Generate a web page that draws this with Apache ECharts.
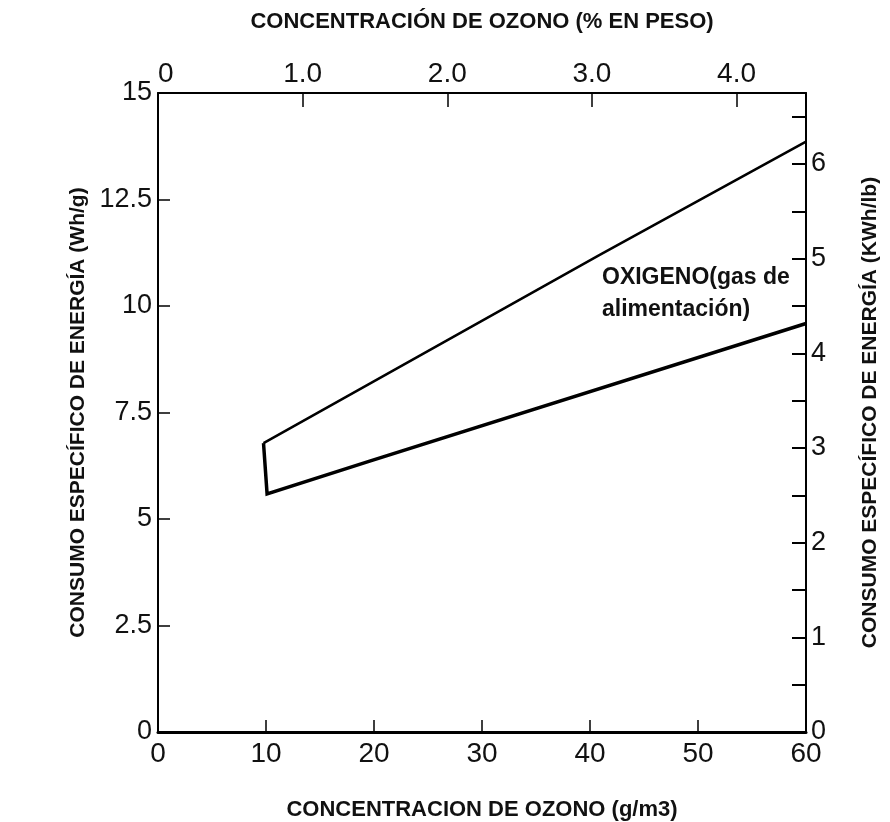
<!DOCTYPE html>
<html>
<head>
<meta charset="utf-8">
<script src="https://cdn.jsdelivr.net/npm/echarts@6/dist/echarts.min.js"></script>
<style>
html,body{margin:0;padding:0;background:#fff;}
#chart{width:890px;height:822px;}
</style>
</head>
<body>
<div id="chart"></div>
<script>
// ---- data ----
// x: ozone concentration (g/m3), y: specific energy consumption (Wh/g)
var upperX = [9.77, 40.9, 60];
var upperY = [6.78, 11.2, 13.86];
var lowerX = [9.77, 10.1, 19.6, 60];
var lowerY = [6.78, 5.59, 6.36, 9.59];

var bottomTickLabels = ['0', '10', '20', '30', '40', '50', '60'];
var topTickLabels = ['0', '1.0', '2.0', '3.0', '4.0'];
var leftTickLabels = ['0', '2.5', '5', '7.5', '10', '12.5', '15'];
var rightTickLabels = ['0', '1', '2', '3', '4', '5', '6'];

var annotationText = 'OXIGENO(gas de\nalimentación)';

function pairs(xs, ys) {
  var out = [];
  for (var i = 0; i < xs.length; i++) out.push([xs[i], ys[i]]);
  return out;
}

var FONT = '"Liberation Sans", Arial, sans-serif';
var INK = '#111';

var chart = echarts.init(document.getElementById('chart'), null, {renderer: 'canvas'});

var option = {
  backgroundColor: '#fff',
  animation: false,
  grid: {left: 158, top: 93, right: 84, bottom: 90, containLabel: false, outerBoundsMode: 'none'},
  xAxis: [
    {
      type: 'value', position: 'bottom', min: 0, max: 60, interval: 10,
      name: 'CONCENTRACION DE OZONO (g/m3)', nameLocation: 'middle', nameGap: 67,
      nameTextStyle: {fontFamily: FONT, fontSize: 22, fontWeight: 'bold', color: INK},
      axisLine: {show: true, onZero: false, lineStyle: {color: '#000', width: 3}},
      axisTick: {show: true, inside: true, length: 12, lineStyle: {color: '#000', width: 1.5}},
      axisLabel: {
        fontFamily: FONT, fontSize: 28, color: INK, margin: 8,
        formatter: function (v, i) { return bottomTickLabels[i] !== undefined ? bottomTickLabels[i] : ''; }
      },
      splitLine: {show: false}
    },
    {
      type: 'value', position: 'top', min: 0, max: 4.48, interval: 1,
      name: 'CONCENTRACIÓN DE OZONO (% EN PESO)', nameLocation: 'middle', nameGap: 60,
      nameTextStyle: {fontFamily: FONT, fontSize: 22, fontWeight: 'bold', color: INK},
      axisLine: {show: true, onZero: false, lineStyle: {color: '#000', width: 2}},
      axisTick: {show: true, inside: true, length: 14, lineStyle: {color: '#000', width: 1.5}},
      axisLabel: {
        fontFamily: FONT, fontSize: 28, color: INK, margin: 5, alignMinLabel: 'left',
        formatter: function (v, i) { return topTickLabels[i] !== undefined ? topTickLabels[i] : ''; }
      },
      splitLine: {show: false}
    }
  ],
  yAxis: [
    {
      type: 'value', position: 'left', min: 0, max: 15, interval: 2.5,
      name: 'CONSUMO ESPECÍFICO DE ENERGÍA (Wh/g)', nameLocation: 'middle', nameGap: 58, nameRotate: 90,
      nameTextStyle: {fontFamily: FONT, fontSize: 21, fontWeight: 'bold', color: INK},
      axisLine: {show: true, onZero: false, lineStyle: {color: '#000', width: 2}},
      axisTick: {show: true, inside: true, length: 12, lineStyle: {color: '#000', width: 1.5}},
      axisLabel: {
        fontFamily: FONT, fontSize: 27, color: INK, margin: 6,
        formatter: function (v, i) { return leftTickLabels[i] !== undefined ? leftTickLabels[i] : ''; }
      },
      splitLine: {show: false}
    },
    {
      type: 'value', position: 'right', min: 0, max: 6.75, interval: 0.5,
      name: 'CONSUMO ESPECÍFICO DE ENERGÍA (KWh/lb)', nameLocation: 'middle', nameGap: 54, nameRotate: 90,
      nameTextStyle: {fontFamily: FONT, fontSize: 21, fontWeight: 'bold', color: INK},
      axisLine: {show: true, onZero: false, lineStyle: {color: '#000', width: 2}},
      axisTick: {show: true, inside: true, length: 14, lineStyle: {color: '#000', width: 2}},
      axisLabel: {
        fontFamily: FONT, fontSize: 27, color: INK, margin: 5,
        formatter: function (v, i) {
          if (i % 2 !== 0) return '';
          var k = i / 2;
          return rightTickLabels[k] !== undefined ? rightTickLabels[k] : '';
        }
      },
      splitLine: {show: false}
    }
  ],
  series: [
    {
      type: 'line', xAxisIndex: 0, yAxisIndex: 0, data: pairs(upperX, upperY),
      showSymbol: false, symbol: 'none', smooth: false,
      lineStyle: {color: '#000', width: 2.5}
    },
    {
      type: 'line', xAxisIndex: 0, yAxisIndex: 0, data: pairs(lowerX, lowerY),
      showSymbol: false, symbol: 'none', smooth: false,
      lineStyle: {color: '#000', width: 3.5, join: 'miter'}
    }
  ],
  graphic: [
    {
      type: 'text', left: 602, top: 262, silent: true,
      style: {text: annotationText, font: 'bold 23px ' + FONT, fill: INK, lineHeight: 32}
    }
  ]
};

chart.setOption(option);
</script>
</body>
</html>
